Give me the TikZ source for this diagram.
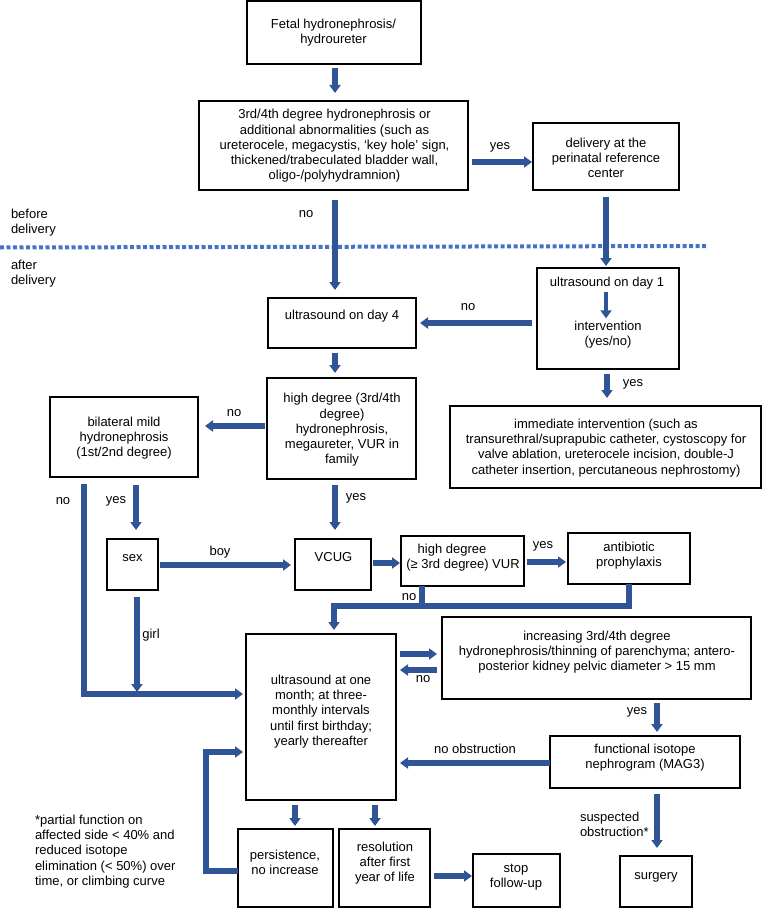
\documentclass[tikz,border=0pt]{standalone}
\usepackage{fontspec}
\setmainfont{Liberation Sans}
\usetikzlibrary{arrows.meta}
\definecolor{arrowblue}{RGB}{47,85,151}
\definecolor{dotblue}{RGB}{68,114,196}
\begin{document}
\begin{tikzpicture}[x=1pt,y=-1pt,
  font=\fontsize{13}{15.2}\selectfont,
  box/.style={draw=black,line width=1.2pt,inner sep=0pt,outer sep=0pt},
  txt/.style={align=center,inner sep=0pt,outer sep=0pt},
  lbl/.style={inner sep=0pt,outer sep=0pt},
  arr/.style={draw=arrowblue,line width=5.5pt,-{Triangle[width=11pt,length=8pt]}},
  conn/.style={draw=arrowblue,line width=5.5pt}]
\useasboundingbox (0,0) rectangle (762,909);

% dotted separation line
\draw[dotblue,line width=4pt,dash pattern=on 4pt off 2.5pt] (0,247.5) -- (706,246);

% boxes
\node[box,minimum width=174pt,minimum height=63pt] (A) at (334,32.5) {};
\node[box,minimum width=269pt,minimum height=89pt] (B) at (333.5,145.5) {};
\node[box,minimum width=146pt,minimum height=67pt] (C) at (606,156.5) {};
\node[box,minimum width=142pt,minimum height=101pt] (D) at (608,318.5) {};
\node[box,minimum width=148pt,minimum height=50pt] (E) at (342,323) {};
\node[box,minimum width=149pt,minimum height=101pt] (F) at (341.5,428.5) {};
\node[box,minimum width=311pt,minimum height=82pt] (G) at (605.5,447) {};
\node[box,minimum width=148pt,minimum height=80pt] (H) at (124,437) {};
\node[box,minimum width=51pt,minimum height=51pt] (I) at (132.5,564.5) {};
\node[box,minimum width=76pt,minimum height=51pt] (J) at (333,564.5) {};
\node[box,minimum width=123pt,minimum height=50pt] (K) at (462.5,561) {};
\node[box,minimum width=122pt,minimum height=51pt] (L) at (629,558.5) {};
\node[box,minimum width=150pt,minimum height=166pt] (M) at (321,717) {};
\node[box,minimum width=309pt,minimum height=82pt] (N) at (596.5,658) {};
\node[box,minimum width=190pt,minimum height=52pt] (O) at (645,762) {};
\node[box,minimum width=95pt,minimum height=78pt] (P) at (285.5,868) {};
\node[box,minimum width=91pt,minimum height=78pt] (Q) at (384.5,868) {};
\node[box,minimum width=87pt,minimum height=53pt] (R) at (516.5,880.5) {};
\node[box,minimum width=72pt,minimum height=51pt] (S) at (656,881.5) {};

% box texts
\node[txt] (At) at (333.5,33) {Fetal hydronephrosis/\\hydroureter};
\node[txt] (Bt) at (334.5,146) {3rd/4th degree hydronephrosis or\\additional abnormalities (such as\\ureterocele, megacystis, ‘key hole’ sign,\\thickened/trabeculated bladder wall,\\oligo-/polyhydramnion)};
\node[txt] (Ct) at (606,158) {delivery at the\\perinatal reference\\center};
\node[txt] (D1) at (607,283) {ultrasound on day 1};
\node[txt] (D2) at (608,335) {intervention\\(yes/no)};
\node[txt] (Et) at (342,316) {ultrasound on day 4};
\node[txt] (Ft) at (342,430) {high degree (3rd/4th\\degree)\\hydronephrosis,\\megaureter, VUR in\\family};
\node[txt] (Gt) at (606,448) {immediate intervention (such as\\transurethral/suprapubic catheter, cystoscopy for\\valve ablation, ureterocele incision, double-J\\catheter insertion, percutaneous nephrostomy)};
\node[txt] (Ht) at (124,438) {bilateral mild\\hydronephrosis\\(1st/2nd degree)};
\node[txt] (It) at (132.5,558) {sex};
\node[txt] (Jt) at (333.5,557) {VCUG};
\node[txt] (Kt) at (463,558) {high degree\hspace*{22pt}\\(≥ 3rd degree) VUR};
\node[txt] (Lt) at (629,556) {antibiotic\\prophylaxis};
\node[txt] (Mt) at (321,711.5) {ultrasound at one\\month; at three-\\monthly intervals\\until first birthday;\\yearly thereafter};
\node[txt] (Nt) at (597,652) {increasing 3rd/4th degree\\hydronephrosis/thinning of parenchyma; antero-\\posterior kidney pelvic diameter > 15 mm};
\node[txt] (Ot) at (645,758) {functional isotope\\nephrogram (MAG3)};
\node[txt] (Pt) at (285,862.5) {persistence,\\no increase};
\node[txt] (Qt) at (385,863) {resolution\\after first\\year of life};
\node[txt] (Rt) at (516,877) {stop\\follow-up};
\node[txt] (St) at (656,877) {surgery};

% free labels
\node[lbl,align=left,anchor=west] (before) at (11,223) {before\\delivery};
\node[lbl,align=left,anchor=west] (after) at (11,274) {after\\delivery};
\node[lbl] (l1) at (500,147) {yes};
\node[lbl] (l2) at (306,214) {no};
\node[lbl] (l3) at (468,307) {no};
\node[lbl] (l4) at (633,384) {yes};
\node[lbl] (l5) at (234,413) {no};
\node[lbl] (l6) at (63,501) {no};
\node[lbl] (l7) at (116,501) {yes};
\node[lbl] (l8) at (356,498) {yes};
\node[lbl] (l9) at (220,552) {boy};
\node[lbl] (l10) at (543,546) {yes};
\node[lbl] (l11) at (409,597) {no};
\node[lbl] (l12) at (151,635) {girl};
\node[lbl] (l13) at (423,679) {no};
\node[lbl] (l14) at (637,712) {yes};
\node[lbl] (l15) at (475,749) {no obstruction};
\node[lbl,align=left,anchor=west] (l16) at (580,824) {suspected\\obstruction*};
\node[lbl,align=left,anchor=west] (foot) at (35,851.5) {*partial function on\\affected side < 40\% and\\reduced isotope\\elimination (< 50\%) over\\time, or climbing curve};

% connectors
\draw[arr,shorten <=4pt,shorten >=8pt] (335,0 |- A.south) -- (335,0 |- B.north);
\draw[arr,shorten <=4pt,shorten >=1pt] (B.east |- 0,162) -- (C.west |- 0,162);
\draw[arr,shorten <=7pt,shorten >=2pt] (606,0 |- C.south) -- (606,0 |- D.north);
\draw[arr,shorten <=10pt,shorten >=8pt] (335,0 |- B.south) -- (335,0 |- E.north);
\draw[arr,line width=4.5pt,shorten <=3pt,shorten >=3pt] (606,0 |- D1.south) -- (606,0 |- D2.north);
\draw[arr,shorten <=5pt,shorten >=4pt] (D.west |- 0,323) -- (E.east |- 0,323);
\draw[arr,shorten <=5pt,shorten >=5pt] (335,0 |- E.south) -- (335,0 |- F.north);
\draw[arr,shorten <=5pt,shorten >=8pt] (607,0 |- D.south) -- (607,0 |- G.north);
\draw[arr,shorten <=2pt,shorten >=7pt] (F.west |- 0,426) -- (H.east |- 0,426);
\draw[arr,shorten <=7pt,shorten >=3pt] (84,0 |- H.south) -- (84,694) -- (M.west |- 0,694);
\draw[arr,shorten <=8pt,shorten >=9pt] (136,0 |- H.south) -- (136,0 |- I.north);
\draw[arr,shorten <=6pt,shorten >=9pt] (335,0 |- F.south) -- (335,0 |- J.north);
\draw[arr,shorten <=2pt,shorten >=4pt] (I.east |- 0,565) -- (J.west |- 0,565);
\draw[arr,shorten <=2pt,shorten >=1pt] (J.east |- 0,563) -- (K.west |- 0,563);
\draw[arr,shorten <=3pt,shorten >=2pt] (K.east |- 0,562) -- (L.west |- 0,562);
\draw[conn] (422,0 |- K.south) -- (422,606);
\draw[arr,shorten >=4pt] (629,0 |- L.south) -- (629,606) -- (334,606) -- (334,0 |- M.north);
\draw[arr,shorten <=7pt] (137,0 |- I.south) -- (137,692);
\draw[arr,shorten <=4pt,shorten >=5pt] (M.east |- 0,654) -- (N.west |- 0,654);
\draw[arr,shorten <=5pt,shorten >=4pt] (N.west |- 0,670) -- (M.east |- 0,670);
\draw[arr,shorten <=4pt,shorten >=4pt] (657,0 |- N.south) -- (657,0 |- O.north);
\draw[arr,shorten >=4pt] (O.west |- 0,763) -- (M.east |- 0,763);
\draw[arr,shorten <=6pt,shorten >=8pt] (657,0 |- O.south) -- (657,0 |- S.north);
\draw[arr,shorten <=5pt,shorten >=3pt] (295,0 |- M.south) -- (295,0 |- P.north);
\draw[arr,shorten <=5pt,shorten >=3pt] (375,0 |- M.south) -- (375,0 |- Q.north);
\draw[arr,shorten <=4pt,shorten >=1pt] (Q.east |- 0,876) -- (R.west |- 0,876);
\draw[arr,shorten >=3pt] (P.west |- 0,871) -- (206,871) -- (206,752) -- (M.west |- 0,752);
\end{tikzpicture}
\end{document}
